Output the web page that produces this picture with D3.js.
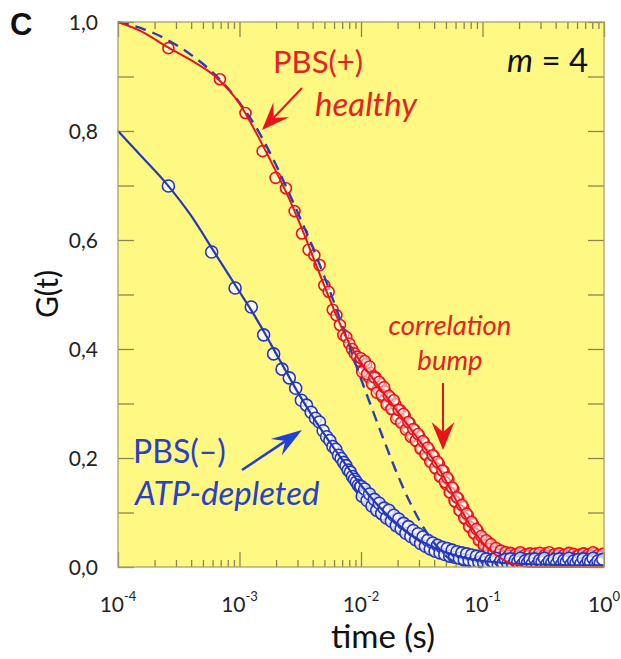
<!DOCTYPE html>
<html><head><meta charset="utf-8">
<script src="https://cdn.jsdelivr.net/npm/d3@7"></script>
<style>body{margin:0;background:#fff}svg{display:block}</style>
</head><body>
<svg id="c" width="621" height="659"></svg>
<script>
// ---------- data ----------
const xTickValues = [1e-4, 1e-3, 1e-2, 1e-1, 1];
const xTickExps = ["-4", "-3", "-2", "-1", "0"];
const yTickValues = [0, 0.2, 0.4, 0.6, 0.8, 1.0];
const yMinorValues = [0.1, 0.3, 0.5, 0.7, 0.9];

// PBS(+) healthy: early sparse points
const redTimeEarly = [2.6e-4,6.9e-4,1.12e-3,1.55e-3,1.98e-3,2.41e-3,2.84e-3,3.27e-3,3.70e-3,4.13e-3,4.56e-3,4.99e-3,5.42e-3,5.85e-3,6.28e-3,6.71e-3,7.14e-3,7.57e-3,8.00e-3,8.43e-3,8.86e-3,9.29e-3,9.72e-3];
const redGEarly = [0.952,0.895,0.833,0.763,0.714,0.695,0.653,0.612,0.582,0.572,0.554,0.517,0.505,0.472,0.462,0.444,0.426,0.422,0.410,0.400,0.392,0.386,0.378];
// PBS(-) ATP-depleted: early sparse points
const blueTimeEarly = [2.6e-4,5.9e-4,9.2e-4,1.25e-3,1.58e-3,1.91e-3,2.24e-3,2.57e-3,2.90e-3,3.23e-3,3.56e-3,3.89e-3,4.22e-3,4.55e-3,4.88e-3,5.21e-3,5.54e-3,5.87e-3,6.20e-3,6.53e-3,6.86e-3,7.19e-3,7.52e-3,7.85e-3,8.18e-3,8.51e-3,8.84e-3,9.17e-3,9.50e-3,9.83e-3];
const blueGEarly = [0.699,0.578,0.512,0.477,0.426,0.391,0.363,0.347,0.328,0.306,0.297,0.284,0.273,0.266,0.250,0.239,0.232,0.221,0.216,0.205,0.199,0.192,0.186,0.178,0.174,0.166,0.161,0.156,0.150,0.146];

// dense part (10 ms .. 1 s), grid A
const timeDenseA = [0.0100,0.0105,0.0110,0.0115,0.0120,0.0126,0.0132,0.0138,0.0145,0.0151,0.0158,0.0166,0.0174,0.0182,0.0191,0.0200,0.0209,0.0219,0.0229,0.0240,0.0251,0.0263,0.0275,0.0288,0.0302,0.0316,0.0331,0.0347,0.0363,0.0380,0.0398,0.0417,0.0437,0.0457,0.0479,0.0501,0.0525,0.0550,0.0575,0.0603,0.0631,0.0661,0.0692,0.0724,0.0759,0.0794,0.0832,0.0871,0.0912,0.0955,0.100,0.105,0.110,0.115,0.120,0.126,0.132,0.138,0.145,0.151,0.158,0.166,0.174,0.182,0.191,0.200,0.209,0.219,0.229,0.240,0.251,0.263,0.275,0.288,0.302,0.316,0.331,0.347,0.363,0.380,0.398,0.417,0.437,0.457,0.479,0.501,0.525,0.550,0.575,0.603,0.631,0.661,0.692,0.724,0.759,0.794,0.832,0.871,0.912,0.955,1.000];
// grid B (between the A points)
const timeDenseB = [0.01023,0.01072,0.01122,0.01175,0.0123,0.01288,0.01349,0.01413,0.01479,0.01549,0.01622,0.01698,0.01778,0.01862,0.0195,0.02042,0.02138,0.02239,0.02344,0.02455,0.0257,0.02692,0.02818,0.02951,0.0309,0.03236,0.03388,0.03548,0.03715,0.0389,0.04074,0.04266,0.04467,0.04677,0.04898,0.05129,0.0537,0.05623,0.05888,0.06166,0.06457,0.06761,0.07079,0.07413,0.07762,0.08128,0.08511,0.08913,0.09333,0.09772,0.1023,0.1072,0.1122,0.1175,0.123,0.1288,0.1349,0.1413,0.1479,0.1549,0.1622,0.1698,0.1778,0.1862,0.195,0.2042,0.2138,0.2239,0.2344,0.2455,0.257,0.2692,0.2818,0.2951,0.309,0.3236,0.3388,0.3548,0.3715,0.389,0.4074,0.4266,0.4467,0.4677,0.4898,0.5129,0.537,0.5623,0.5888,0.6166,0.6457,0.6761,0.7079,0.7413,0.7762,0.8128,0.8511,0.8913,0.9333,0.9772];

const redGDenseA = [0.383,0.362,0.372,0.349,0.356,0.334,0.348,0.327,0.336,0.312,
 0.322,0.300,0.311,0.290,0.299,0.276,0.288,0.266,0.277,0.255,
 0.264,0.242,0.252,0.230,0.240,0.218,0.228,0.205,0.215,0.193,
 0.203,0.180,0.189,0.166,0.176,0.152,0.160,0.136,0.143,0.119,
 0.126,0.103,0.110,0.088,0.094,0.073,0.079,0.061,0.066,0.049,
 0.053,0.040,0.046,0.034,0.038,0.027,0.033,0.024,0.029,0.020,
 0.026,0.018,0.024,0.016,0.022,0.019,0.025,0.017,0.023,0.016,
 0.021,0.018,0.024,0.016,0.022,0.019,0.025,0.017,0.021,0.016,
 0.023,0.018,0.024,0.016,0.021,0.019,0.025,0.017,0.022,0.016,
 0.023,0.018,0.024,0.017,0.021,0.019,0.025,0.016,0.022,0.018,
 0.021];
const redGDenseB = [0.358,0.378,0.354,0.368,0.336,0.348,0.320,0.340,0.316,0.330,
 0.298,0.314,0.290,0.306,0.272,0.288,0.265,0.281,0.252,0.266,
 0.239,0.253,0.232,0.244,0.217,0.231,0.207,0.219,0.193,0.205,
 0.182,0.193,0.166,0.177,0.156,0.164,0.137,0.146,0.121,0.128,
 0.104,0.114,0.090,0.098,0.074,0.083,0.062,0.070,0.049,0.057,
 0.040,0.049,0.033,0.042,0.027,0.035,0.023,0.030,0.020,0.027,
 0.020,0.026,0.017,0.023,0.019,0.027,0.016,0.022,0.020,0.025,
 0.017,0.024,0.018,0.026,0.016,0.021,0.019,0.027,0.017,0.023,
 0.020,0.025,0.016,0.022,0.018,0.026,0.017,0.024,0.019,0.021,
 0.016,0.025,0.018,0.023,0.020,0.027,0.017,0.022,0.019,0.024];
const blueGDenseA = [0.148,0.136,0.137,0.124,0.128,0.114,0.118,0.106,0.111,0.099,
 0.103,0.092,0.098,0.086,0.090,0.078,0.083,0.071,0.075,0.064,
 0.068,0.058,0.062,0.051,0.055,0.045,0.050,0.040,0.045,0.035,
 0.040,0.031,0.037,0.028,0.033,0.025,0.031,0.022,0.027,0.019,
 0.025,0.017,0.023,0.015,0.021,0.014,0.019,0.012,0.017,0.010,
 0.015,0.009,0.014,0.007,0.013,0.008,0.014,0.006,0.012,0.008,
 0.013,0.005,0.011,0.007,0.013,0.006,0.012,0.008,0.013,0.005,
 0.011,0.007,0.013,0.006,0.012,0.008,0.013,0.005,0.011,0.007,
 0.013,0.006,0.012,0.008,0.013,0.005,0.011,0.007,0.013,0.006,
 0.012,0.008,0.013,0.005,0.011,0.007,0.013,0.006,0.012,0.008,
 0.011];
const blueGDenseB = [0.130,0.143,0.122,0.134,0.112,0.124,0.104,0.117,0.098,0.108,
 0.090,0.104,0.084,0.095,0.076,0.088,0.070,0.080,0.062,0.074,
 0.056,0.067,0.050,0.061,0.043,0.055,0.038,0.049,0.033,0.044,
 0.029,0.040,0.026,0.036,0.023,0.034,0.020,0.031,0.018,0.028,
 0.016,0.026,0.013,0.024,0.012,0.022,0.010,0.020,0.009,0.018,
 0.008,0.015,0.005,0.012,0.009,0.016,0.004,0.011,0.007,0.014,
 0.006,0.015,0.004,0.012,0.009,0.016,0.005,0.011,0.007,0.014,
 0.006,0.015,0.004,0.012,0.009,0.016,0.005,0.011,0.007,0.014,
 0.006,0.015,0.004,0.012,0.009,0.016,0.005,0.011,0.007,0.014,
 0.006,0.015,0.004,0.012,0.009,0.016,0.005,0.011,0.007,0.014];

// fit curves
const fitTime = [1e-4,1.585e-4,2.512e-4,3.981e-4,6.31e-4,1e-3,1.259e-3,1.585e-3,1.995e-3,2.512e-3,3.162e-3,3.981e-3,5.012e-3,6.31e-3,7.943e-3,0.01,0.01259,0.01585,0.01995,0.02512,0.03162,0.03981,0.05012,0.0631,0.07943,0.1,0.1259,0.1585,0.1995,0.2512,0.3981,0.631,1.0];
const redFit = [1.0,0.982,0.955,0.93,0.90,0.85,0.812,0.77,0.726,0.68,0.628,0.572,0.515,0.46,0.412,0.375,0.345,0.315,0.285,0.256,0.226,0.195,0.158,0.115,0.076,0.045,0.024,0.010,0.003,0.0,0.0,0.0,0.0];
const blueFit = [0.80,0.752,0.703,0.645,0.575,0.505,0.47,0.432,0.392,0.352,0.313,0.277,0.243,0.211,0.180,0.150,0.123,0.099,0.079,0.061,0.047,0.036,0.027,0.020,0.015,0.011,0.009,0.007,0.006,0.005,0.004,0.003,0.003];
const dashedFit = [1.0,0.988,0.968,0.94,0.903,0.852,0.82,0.782,0.738,0.69,0.64,0.588,0.532,0.472,0.408,0.345,0.285,0.226,0.17,0.12,0.078,0.045,0.02,0.006,0.001,0.0,null,null,null,null,null,null,null];

// ---------- drawing ----------
const svg = d3.select("#c");
const L = 118, R = 604, T = 22, B = 567;
const x = d3.scaleLog().domain([1e-4, 1]).range([L, R]);
const y = d3.scaleLinear().domain([0, 1]).range([B, T]);

const RED = "#e8141c", BLUE = "#2334c8", AX = "#8a8650";
const FONT = "Lato, 'Open Sans', sans-serif";

svg.append("rect").attr("x", L).attr("y", T).attr("width", R - L).attr("height", B - T).attr("fill", "#fff983");

// ticks
const minorX = [];
for (let d = -4; d < 0; d++) for (let k = 2; k <= 9; k++) minorX.push(k * Math.pow(10, d));
function styleAxis(g) { g.select(".domain").remove(); g.selectAll("line").attr("stroke", AX).attr("stroke-width", 1.3); g.selectAll("text").remove(); }
svg.append("g").attr("transform", `translate(0,${B})`).call(d3.axisBottom(x).tickValues(xTickValues).tickSize(-15)).call(styleAxis);
svg.append("g").attr("transform", `translate(0,${B})`).call(d3.axisBottom(x).tickValues(minorX).tickSize(-7)).call(styleAxis);
svg.append("g").attr("transform", `translate(0,${T})`).call(d3.axisTop(x).tickValues(xTickValues).tickSize(-15)).call(styleAxis);
svg.append("g").attr("transform", `translate(0,${T})`).call(d3.axisTop(x).tickValues(minorX).tickSize(-7)).call(styleAxis);
svg.append("g").attr("transform", `translate(${L},0)`).call(d3.axisLeft(y).tickValues(yTickValues.concat(yMinorValues)).tickSize(-16)).call(styleAxis);
svg.append("g").attr("transform", `translate(${R},0)`).call(d3.axisRight(y).tickValues(yTickValues.concat(yMinorValues)).tickSize(-16)).call(styleAxis);

// y labels
svg.append("g").selectAll("text").data(yTickValues).join("text")
  .attr("x", L - 20).attr("y", d => y(d)).attr("dy", "0.36em").attr("text-anchor", "end")
  .attr("font-family", FONT).attr("font-size", 21).attr("fill", "#222")
  .text(d => d.toFixed(1).replace(".", ","));
// x labels
const xl = svg.append("g").selectAll("text").data(xTickValues).join("text")
  .attr("x", d => x(d)).attr("y", 612).attr("text-anchor", "middle")
  .attr("font-family", FONT).attr("font-size", 21).attr("fill", "#222");
xl.append("tspan").text("10");
xl.append("tspan").attr("font-size", 13).attr("dy", -11).text((d, i) => xTickExps[i]);

// clip
svg.append("clipPath").attr("id", "pc").append("rect").attr("x", L).attr("y", T).attr("width", R - L).attr("height", B - T);
const plot = svg.append("g").attr("clip-path", "url(#pc)");

const redPts = redTimeEarly.map((t, i) => [t, redGEarly[i]])
  .concat(timeDenseA.map((t, i) => [t, redGDenseA[i]]))
  .concat(timeDenseB.map((t, i) => [t, redGDenseB[i]]));
const bluePts = blueTimeEarly.map((t, i) => [t, blueGEarly[i]])
  .concat(timeDenseA.map((t, i) => [t, blueGDenseA[i]]))
  .concat(timeDenseB.map((t, i) => [t, blueGDenseB[i]]));

plot.append("g").selectAll("circle").data(redPts).join("circle")
  .attr("cx", d => x(d[0])).attr("cy", d => y(d[1])).attr("r", 5.5)
  .attr("fill", "#fff").attr("fill-opacity", 0.5).attr("stroke", RED).attr("stroke-width", 1.6);
plot.append("g").selectAll("circle").data(bluePts).join("circle")
  .attr("cx", d => x(d[0])).attr("cy", d => y(d[1])).attr("r", 6)
  .attr("fill", "#fff").attr("fill-opacity", 0.75).attr("stroke", BLUE).attr("stroke-width", 1.6);

const line = d3.line().defined(d => d[1] !== null).x(d => x(d[0])).y(d => y(d[1])).curve(d3.curveMonotoneX);
svg.append("path").datum(fitTime.map((t, i) => [t, dashedFit[i]])).attr("d", line)
  .attr("fill", "none").attr("stroke", "#2a3fb5").attr("stroke-width", 2.4).attr("stroke-dasharray", "11,7");
svg.append("path").datum(fitTime.map((t, i) => [t, blueFit[i]])).attr("d", line)
  .attr("fill", "none").attr("stroke", "#2438b8").attr("stroke-width", 2.2);
svg.append("path").datum(fitTime.map((t, i) => [t, redFit[i]])).attr("d", line)
  .attr("fill", "none").attr("stroke", RED).attr("stroke-width", 2);

// frame
svg.append("rect").attr("x", L).attr("y", T).attr("width", R - L).attr("height", B - T)
  .attr("fill", "none").attr("stroke", "#a8a26a").attr("stroke-width", 1.3);

// arrows
function arrow(x1, y1, x2, y2, color, sw, Lh, W, N) {
  const dx = x1 - x2, dy = y1 - y2, len = Math.hypot(dx, dy);
  const ux = dx / len, uy = dy / len, nx = -uy, ny = ux;
  svg.append("line").attr("x1", x1).attr("y1", y1).attr("x2", x2 + ux * N).attr("y2", y2 + uy * N)
    .attr("stroke", color).attr("stroke-width", sw);
  const p = [[x2, y2], [x2 + ux * Lh + nx * W, y2 + uy * Lh + ny * W], [x2 + ux * N, y2 + uy * N], [x2 + ux * Lh - nx * W, y2 + uy * Lh - ny * W]];
  svg.append("path").attr("d", "M" + p.join("L") + "Z").attr("fill", color);
}
arrow(302, 88, 262, 130, RED, 2, 28, 11, 17);
arrow(242, 470, 302, 430, "#1f3fd8", 2.5, 31, 10, 20);
arrow(443, 383, 443, 450, RED, 2, 28, 11.5, 18);

// texts
function txt(s, x0, y0, size, color, opts = {}) {
  const t = svg.append("text").attr("x", x0).attr("y", y0).attr("font-family", opts.family || FONT)
    .attr("font-size", size).attr("fill", color).attr("text-anchor", opts.anchor || "start")
    .attr("font-style", opts.italic ? "italic" : "normal").attr("font-weight", opts.bold ? "bold" : "normal");
  t.text(s);
  return t;
}
txt("C", 10, 35, 31, "#111", { bold: true, family: "'Liberation Sans', Arial, sans-serif" });
txt("PBS(+)", 273, 73, 31, "#e52222");
txt("healthy", 315, 116, 33, "#e52222", { italic: true });
const m = svg.append("text").attr("x", 507).attr("y", 72).attr("font-family", FONT).attr("font-size", 33).attr("fill", "#111");
m.append("tspan").attr("font-style", "italic").text("m");
m.append("tspan").text(" = 4");
txt("PBS(–)", 133, 463, 32, "#2a40c8");
txt("ATP-depleted", 135, 505, 33, "#2a40c8", { italic: true });
txt("correlation", 450, 335, 27.5, "#e52222", { italic: true, anchor: "middle" });
txt("bump", 450, 370, 27.5, "#e52222", { italic: true, anchor: "middle" });
txt("time (s)", 383, 648, 33, "#111", { anchor: "middle" });
svg.append("text").attr("transform", "translate(58,294) rotate(-90)").attr("text-anchor", "middle")
  .attr("font-family", FONT).attr("font-size", 30).attr("fill", "#111").text("G(t)");
</script>
</body></html>
